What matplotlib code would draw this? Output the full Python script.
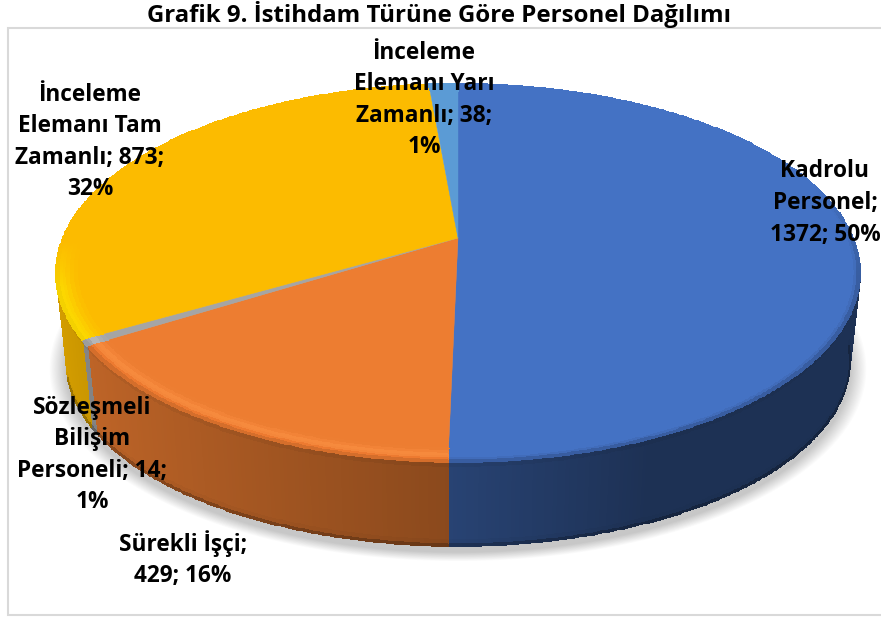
import numpy as np
import matplotlib
matplotlib.use('Agg')
import matplotlib.pyplot as plt
from matplotlib.patches import Rectangle

plt.rcParams['font.family'] = ['Open Sans', 'DejaVu Sans']

# data, clockwise from 12 o'clock
names = ['Kadrolu Personel', 'Sürekli İşçi', 'Sözleşmeli Bilişim Personeli',
         'İnceleme Elemanı Tam Zamanlı', 'İnceleme Elemanı Yarı Zamanlı']
values = [1372, 429, 14, 873, 38]
colors = ['#4472C4', '#ED7D31', '#A5A5A5', '#FCBB00', '#5B9BD5']
label_texts = ['Kadrolu\nPersonel;\n1372; 50%',
               'Sürekli İşçi;\n429; 16%',
               'Sözleşmeli\nBilişim\nPersoneli; 14;\n1%',
               'İnceleme\nElemanı Tam\nZamanlı; 873;\n32%',
               'İnceleme\nElemanı Yarı\nZamanlı; 38;\n1%']
label_x = [825, 183, 92, 90, 424]
label_y = [203, 559, 455, 142, 100]
title = 'Grafik 9. İstihdam Türüne Göre Personel Dağılımı'

# pie projection, in pixels
cx, cy = 458, 238
ax_x, ax_y, persp = 395, 182.5, 0.185
depth_cy, depth_scale = 327.6, 0.975


def top_xy(theta, r=1.0):
    # theta clockwise from top, perspective on the disc
    X = r * np.sin(theta)
    Y = r * np.cos(theta)
    w = 1 + persp * Y
    return cx + ax_x * X / w, cy - ax_y * Y / w


def bottom_xy(theta):
    x, y = top_xy(theta)
    return cx + (x - cx) * depth_scale, depth_cy + (y - cy) * depth_scale


def side_shade(theta):
    # lighter to the left, darker to the right
    return np.interp(np.sin(theta), [-1, -0.85, 0, 0.4, 1], [0.85, 0.8, 0.58, 0.43, 0.43])


fig = plt.figure(figsize=(8.81, 6.19), dpi=100)
ax = fig.add_axes([0, 0, 1, 1])
ax.set_xlim(0, 881)
ax.set_ylim(619, 0)
ax.axis('off')

ax.add_patch(Rectangle((8, 28), 880, 587, fc='white', ec='#d9d9d9', lw=1.5, zorder=0))

# soft shadow under the pie
t_all = np.linspace(0, 2 * np.pi, 300)
bx, by = bottom_xy(t_all)
for i in range(14):
    grow = 1 + 0.003 * (14 - i)
    ax.fill(cx + (bx - cx) * grow, depth_cy + 6 + (by - depth_cy) * grow, color='black',
            alpha=0.016, lw=0, zorder=1)

fractions = np.array(values) / sum(values)
edges = np.concatenate([[0], np.cumsum(fractions)]) * 2 * np.pi
rgb = [np.array(matplotlib.colors.to_rgb(c)) for c in colors]

# side walls, only the part in front of the tangent points
for i in range(len(values)):
    start = max(edges[i], np.radians(106))
    stop = min(edges[i + 1], np.radians(254))
    if i == 0:
        start = np.radians(96)
    if stop <= start:
        continue
    th = np.linspace(start, stop, max(int(np.degrees(stop - start) * 2), 2) + 1)
    tx, ty = top_xy(th)
    lx, ly = bottom_xy(th)
    v = np.array([0, 0.07, 0.93, 0.98, 1.0])
    X = np.outer(1 - v, tx) + np.outer(v, lx)
    Y = np.outer(1 - v, ty) + np.outer(v, ly)
    v_fac = np.array([0.95, 1.0, 0.97, 0.75])
    shade = side_shade((th[:-1] + th[1:]) / 2)
    C = np.clip(np.outer(v_fac, shade)[:, :, None] * rgb[i], 0, 1)
    ax.pcolormesh(X, Y, C, shading='flat', edgecolors='face', linewidth=0.3, zorder=2)

# the wall behind the tangent points on each side
for i, a, b in [(0, 70, 96), (3, 254, 262)]:
    th = np.radians(np.linspace(a, b, 30))
    tx, ty = top_xy(th)
    lx, ly = bottom_xy(th)
    ax.fill(np.r_[tx, lx[::-1]], np.r_[ty, ly[::-1]], color=rgb[i] * side_shade(np.radians((a + b) / 2)),
            lw=0, zorder=1.5)

# top face and bevel
for i in range(len(values)):
    th = np.linspace(edges[i], edges[i + 1], max(int(np.degrees(edges[i + 1] - edges[i]) * 2), 2) + 1)
    tx, ty = top_xy(th)
    ax.fill(np.r_[cx, tx], np.r_[cy, ty], color=colors[i], lw=0.3, zorder=3)
    r = np.array([0.95, 0.96, 0.97, 0.98, 0.987, 0.994, 1.0])
    R, T = np.meshgrid(r, th, indexing='ij')
    X, Y = top_xy(T, R)
    mid = (th[:-1] + th[1:]) / 2
    front = np.clip((-np.cos(mid) + 0.3) / 0.5, 0, 1)
    if i == 0 or i == 4:
        rim = np.array([1, 1, 1, 1, 0.95, 0.82])[:, None] * np.ones((6, 3))
    elif i == 1:
        rim = np.array([[1.0, 1.01, 1.03], [1.02, 1.05, 1.12], [1.04, 1.1, 1.25], [1.03, 1.08, 1.2],
                        [1.0, 0.98, 0.98], [0.9, 0.88, 0.88]])
    elif i == 3:
        # the bright yellow edge only runs on the lower left
        front = np.clip((-np.cos(mid) - 0.02) / 0.25, 0, 1)
        rim = np.array([[1, 1.02, 1], [1, 1.05, 1], [1, 1.09, 1], [1, 1.13, 1], [1, 1.15, 1], [0.97, 1.12, 1]])
    else:
        rim = np.array([[1.02] * 3, [1.05] * 3, [1.1] * 3, [1.1] * 3, [1.0] * 3, [0.95] * 3])
    C = (1 + front[None, :, None] * (rim[:, None, :] - 1)) * rgb[i]
    ax.pcolormesh(X, Y, np.clip(C, 0, 1), shading='flat', edgecolors='face', linewidth=0.3, zorder=4)

for name, txt, x, y in zip(names, label_texts, label_x, label_y):
    ax.text(x, y, txt, ha='center', va='center', fontsize=16.3, fontweight='bold',
            color='black', linespacing=1.42, zorder=6)

ax.text(439, 14, title, ha='center', va='center', fontsize=17.3, fontweight='bold', color='black', zorder=6)

fig.savefig('out.png', dpi=100)
